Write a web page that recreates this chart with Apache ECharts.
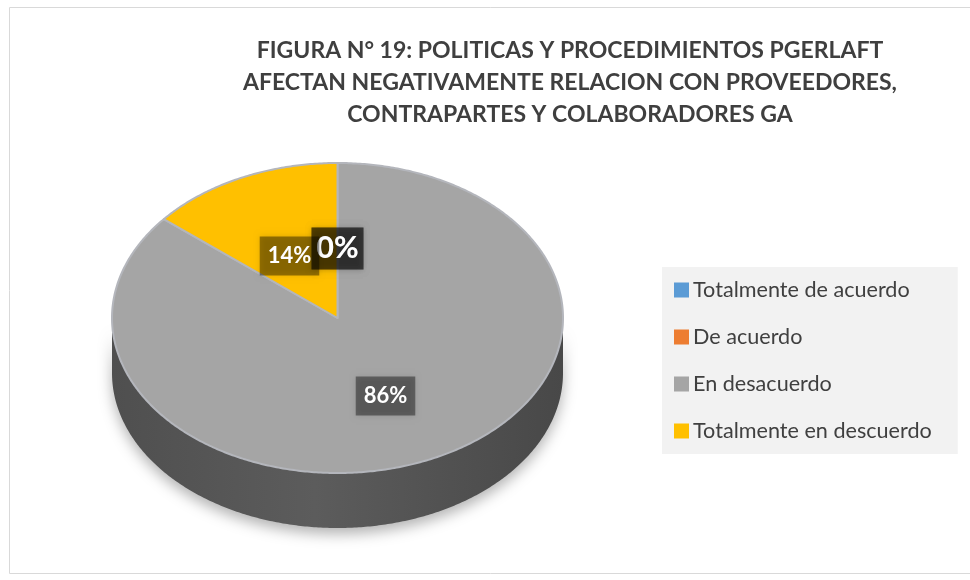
<!DOCTYPE html>
<html><head><meta charset="utf-8">
<script src="https://cdn.jsdelivr.net/npm/echarts@6/dist/echarts.min.js"></script>
<style>html,body{margin:0;padding:0;background:#fff}#c{width:970px;height:580px}</style>
</head><body><div id="c"></div>
<script>
const categories = ['Totalmente de acuerdo', 'De acuerdo', 'En desacuerdo', 'Totalmente en descuerdo'];
const values = [0, 0, 86, 14];
const colors = ['#5b9bd5', '#ed7d31', '#a5a5a5', '#ffc000'];
const titleLines = [
  'FIGURA N° 19: POLITICAS Y PROCEDIMIENTOS PGERLAFT',
  'AFECTAN NEGATIVAMENTE RELACION CON PROVEEDORES,',
  'CONTRAPARTES Y COLABORADORES GA'
];

const total = values.reduce((a, b) => a + b, 0);
const starts = [];
let acc = 0;
values.forEach(v => { starts.push(acc); acc += v; });

const PIE = { cx: 337.5, cy: 318, rx: 225.5, ry: 155, depth: 55 };
function pt(theta, r, dy) {
  r = (r == null) ? 1 : r;
  return [PIE.cx + r * PIE.rx * Math.sin(theta), PIE.cy - r * PIE.ry * Math.cos(theta) + (dy || 0)];
}
function arc(a0, a1, dy) {
  const n = Math.max(2, Math.ceil((a1 - a0) / 0.01));
  const out = [];
  for (let k = 0; k <= n; k++) out.push(pt(a0 + (a1 - a0) * k / n, 1, dy));
  return out;
}

function renderItem(params, api) {
  const i = params.dataIndex;
  const v = api.value(1);
  const a0 = starts[i] / total * 2 * Math.PI;
  const a1 = (starts[i] + v) / total * 2 * Math.PI;
  const children = [];
  if (a1 > a0) {
    const s0 = Math.max(a0, Math.PI / 2), s1 = Math.min(a1, 3 * Math.PI / 2);
    if (s1 > s0) {
      const top = arc(s0, s1, 0);
      const bot = arc(s0, s1, PIE.depth).reverse();
      children.push({
        type: 'polygon', z2: 1, silent: true,
        shape: { points: top.concat(bot) },
        style: {
          fill: { type: 'linear', x: 0, y: 0, x2: 1, y2: 0, colorStops: [
            { offset: 0, color: '#4f4f4f' }, { offset: 0.45, color: '#5c5c5c' }, { offset: 1, color: '#484848' }] },
          shadowBlur: 14, shadowColor: 'rgba(0,0,0,0.3)', shadowOffsetY: 6
        }
      });
    }
    children.push({
      type: 'polygon', z2: 5, silent: true,
      shape: { points: [[PIE.cx, PIE.cy]].concat(arc(a0, a1, 0)) },
      style: { fill: colors[i], stroke: '#b4b6bc', lineWidth: 2, lineJoin: 'round' }
    });
  }
  const mid = (a0 + a1) / 2;
  const lp = pt(mid, 0.5, 8);
  const pct = Math.round(v / total * 100) + '%';
  const big = v === 0;
  children.push({
    type: 'text', z2: 10, silent: true,
    x: lp[0], y: lp[1],
    style: {
      text: pct,
      fill: '#ffffff',
      font: 'bold ' + (big ? 30 : 22) + 'px Lato, "Liberation Sans", sans-serif',
      align: 'center', verticalAlign: 'middle',
      backgroundColor: big ? 'rgba(0,0,0,0.4)' : 'rgba(0,0,0,0.4)',
      padding: big ? [7, 5, 5, 5] : [10, 8, 7, 8],
      shadowBlur: 6, shadowColor: 'rgba(0,0,0,0.3)'
    }
  });
  return { type: 'group', children: children };
}

const chart = echarts.init(document.getElementById('c'), null, { renderer: 'canvas' });
chart.setOption({
  animation: false,
  color: colors,
  graphic: [
    { type: 'rect', shape: { x: 9.5, y: 7.5, width: 962, height: 566 },
      style: { fill: 'none', stroke: '#d9d9d9', lineWidth: 1 }, z: -1 },
    { type: 'text', x: 570, y: 35,
      style: { text: titleLines.join('\n'), font: 'bold 23px Lato, "Liberation Sans", sans-serif',
        fill: '#3f3f3f', align: 'center', lineHeight: 32 } }
  ],
  legend: {
    data: categories,
    orient: 'vertical',
    left: 662, top: 267,
    backgroundColor: '#f2f2f2',
    padding: [12, 26, 12, 12],
    icon: 'rect',
    itemWidth: 15, itemHeight: 15,
    itemGap: 25,
    selectedMode: false,
    textStyle: { fontFamily: 'Lato, "Liberation Sans", sans-serif', fontSize: 21.6, color: '#404040', lineHeight: 20, padding: [0, 0, 0, -1] }
  },
  series: [
    {
      type: 'pie', name: 'legend', radius: [0, 0], center: [PIE.cx, PIE.cy], silent: true,
      label: { show: false }, labelLine: { show: false },
      data: categories.map((c, i) => ({ name: c, value: values[i] }))
    },
    {
      type: 'custom', name: 'pie3d', coordinateSystem: 'none', silent: true,
      renderItem: renderItem,
      data: values.map((v, i) => ({ name: categories[i], value: [i, v] }))
    }
  ]
});
</script>
</body></html>
